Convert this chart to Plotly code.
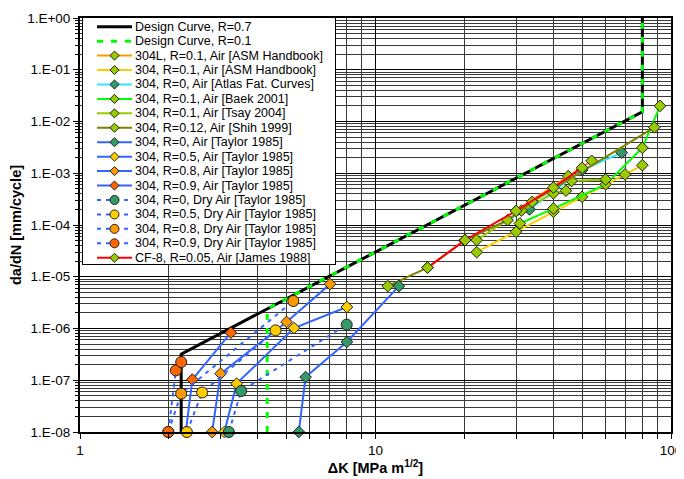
import plotly.graph_objects as go

# ---------------- data ----------------
# Design curves
dc07_dk = [2.2, 2.2, 80, 80]
dc07_da = [1e-8, 3.2e-7, 1.54e-2, 1.0]
dc01_dk = [4.3, 4.3, 80, 80]
dc01_da = [1e-8, 2.4e-6, 1.54e-2, 1.0]

# 304L, R=0.1, Air [ASM Handbook]
asm304l_dk = [29.9, 44.9, 53.9]
asm304l_da = [1.87e-4, 8.8e-4, 1.74e-3]
# 304, R=0.1, Air [ASM Handbook]
asm304_dk = [22.0, 29.9, 40.0, 50.0, 69.9, 80.0]
asm304_da = [2.98e-5, 7.4e-5, 1.8e-4, 3.5e-4, 9.5e-4, 1.43e-3]
# 304, R=0, Air [Atlas Fat. Curves]
atlas_dk = [20.0, 33.2, 50.0, 68.1]
atlas_da = [5.0e-5, 2.0e-4, 1.15e-3, 2.5e-3]
# 304, R=0.1, Air [Baek 2001]
baek_dk = [30.8, 40.0, 60.1, 80.0, 91.8]
baek_da = [1.07e-4, 2.08e-4, 6.1e-4, 3.1e-3, 2.0e-2]
# 304, R=0.1, Air [Tsay 2004]
tsay_dk = [22.0, 31.2, 40.0, 44.1, 46.1, 60.1]
tsay_da = [5.1e-5, 1.9e-4, 4.1e-4, 4.6e-4, 7.1e-4, 7.6e-4]
# 304, R=0.12, Air [Shih 1999]
shih_dk = [11.0, 15.0, 20.1, 28.0, 33.9, 87.8]
shih_da = [6.6e-6, 1.5e-5, 5.1e-5, 1.24e-4, 2.8e-4, 7.7e-3]
# Taylor 1985, Air
tay_r0_dk = [5.5, 5.8, 8.0, 12.0]
tay_r0_da = [1e-8, 1.15e-7, 5.5e-7, 6.6e-6]
tay_r05_dk = [3.08, 3.39, 5.3, 8.0]
tay_r05_da = [1e-8, 8.6e-8, 1.02e-6, 2.6e-6]
tay_r08_dk = [2.8, 2.99, 5.0, 7.02]
tay_r08_da = [1e-8, 1.34e-7, 1.34e-6, 7.2e-6]
tay_r09_dk = [2.28, 2.4, 3.24]
tay_r09_da = [1e-8, 1.03e-7, 8.3e-7]
# Taylor 1985, Dry Air
dry_r0_dk = [3.19, 3.51, 7.99]
dry_r0_da = [1e-8, 6.2e-8, 1.19e-6]
dry_r05_dk = [2.3, 2.59, 4.59]
dry_r05_da = [1e-8, 5.8e-8, 9.2e-7]
dry_r08_dk = [1.99, 2.2, 5.27]
dry_r08_da = [1e-8, 5.5e-8, 3.4e-6]
dry_r09_dk = [1.99, 2.11, 2.2]
dry_r09_da = [1e-8, 1.55e-7, 2.25e-7]
# CF-8, R=0.05, Air [James 1988]
james_dk = [15.0, 20.1, 29.9, 40.0, 50.0]
james_da = [1.5e-5, 5.1e-5, 1.87e-4, 5.3e-4, 1.27e-3]

series_names = [
    "Design Curve, R=0.7",
    "Design Curve, R=0.1",
    "304L, R=0.1, Air [ASM Handbook]",
    "304, R=0.1, Air [ASM Handbook]",
    "304, R=0, Air [Atlas Fat. Curves]",
    "304, R=0.1, Air [Baek 2001]",
    "304, R=0.1, Air [Tsay 2004]",
    "304, R=0.12, Air [Shih 1999]",
    "304, R=0, Air [Taylor 1985]",
    "304, R=0.5, Air [Taylor 1985]",
    "304, R=0.8, Air [Taylor 1985]",
    "304, R=0.9, Air [Taylor 1985]",
    "304, R=0, Dry Air [Taylor 1985]",
    "304, R=0.5, Dry Air [Taylor 1985]",
    "304, R=0.8, Dry Air [Taylor 1985]",
    "304, R=0.9, Dry Air [Taylor 1985]",
    "CF-8, R=0.05, Air [James 1988]",
]
series_x = [dc07_dk, dc01_dk, asm304l_dk, asm304_dk, atlas_dk, baek_dk, tsay_dk, shih_dk,
            tay_r0_dk, tay_r05_dk, tay_r08_dk, tay_r09_dk,
            dry_r0_dk, dry_r05_dk, dry_r08_dk, dry_r09_dk, james_dk]
series_y = [dc07_da, dc01_da, asm304l_da, asm304_da, atlas_da, baek_da, tsay_da, shih_da,
            tay_r0_da, tay_r05_da, tay_r08_da, tay_r09_da,
            dry_r0_da, dry_r05_da, dry_r08_da, dry_r09_da, james_da]

y_tick_vals = [1e-8, 1e-7, 1e-6, 1e-5, 1e-4, 1e-3, 1e-2, 1e-1, 1.0]
y_tick_text = ["1.E-08", "1.E-07", "1.E-06", "1.E-05", "1.E-04", "1.E-03", "1.E-02", "1.E-01", "1.E+00"]
x_tick_vals = [1, 10, 100]
x_tick_text = ["1", "10", "100"]

# ---------------- styles ----------------
YG, TEAL, GOLD, ORNG, ORED = "#99CC00", "#339966", "#FFCC00", "#FF9900", "#FF6600"
BLUE = "#3366FF"
# (line color, line width, dash, marker symbol, marker color)
styles = [
    ("black", 3, "solid", None, None),
    ("#00FF00", 3, "6px,8px", None, None),
    ("#FF9900", 2, "solid", "diamond", YG),
    ("#FFCC00", 2, "solid", "diamond", YG),
    ("#33E6FF", 2, "solid", "diamond", TEAL),
    ("#00FF00", 2, "solid", "diamond", YG),
    ("#99CC00", 2, "solid", "diamond", YG),
    ("#808000", 2, "solid", "diamond", YG),
    (BLUE, 2, "solid", "diamond", TEAL),
    (BLUE, 2, "solid", "diamond", GOLD),
    (BLUE, 2, "solid", "diamond", ORNG),
    (BLUE, 2, "solid", "diamond", ORED),
    (BLUE, 2, "4px,5px", "circle", TEAL),
    (BLUE, 2, "4px,5px", "circle", GOLD),
    (BLUE, 2, "4px,5px", "circle", ORNG),
    (BLUE, 2, "4px,5px", "circle", ORED),
    ("#FF0000", 2, "solid", "diamond", YG),
]

FONT = "Arial, 'Liberation Sans', sans-serif"
fig = go.Figure()

for name, xs, ys, (lc, lw, dash, sym, mc) in zip(series_names, series_x, series_y, styles):
    kw = dict(x=xs, y=ys, name=name, showlegend=False, cliponaxis=False,
              line=dict(color=lc, width=lw, dash=dash), xaxis="x", yaxis="y")
    if sym is None:
        kw["mode"] = "lines"
    else:
        kw["mode"] = "lines+markers"
        kw["marker"] = dict(symbol=sym, color=mc, size=9 if sym == "diamond" else 11,
                            line=dict(color="#222222", width=1))
    fig.add_trace(go.Scatter(**kw))

# ---------------- custom legend (own small axes) ----------------
LEG_W, LEG_H = 252, 246
n = len(series_names)
row_y = [8.7 + 14.44 * i for i in range(n)]
for i, (name, (lc, lw, dash, sym, mc)) in enumerate(zip(series_names, styles)):
    fig.add_trace(go.Scatter(x=[14, 49], y=[row_y[i]] * 2, mode="lines", showlegend=False,
                             hoverinfo="skip", line=dict(color=lc, width=lw, dash=dash),
                             xaxis="x2", yaxis="y2"))
    if sym is not None:
        fig.add_trace(go.Scatter(x=[31.5], y=[row_y[i]], mode="markers", showlegend=False,
                                 hoverinfo="skip", cliponaxis=False,
                                 marker=dict(symbol=sym, color=mc, size=7 if sym == "diamond" else 9,
                                             line=dict(color="#222222", width=1)),
                                 xaxis="x2", yaxis="y2"))
    fig.add_annotation(x=50, y=row_y[i], xref="x2", yref="y2", text=name, showarrow=False,
                       xanchor="left", yanchor="middle", font=dict(size=12.5, family=FONT, color="black"))

def minor_vals(lo, hi):
    return [d * 10 ** k for k in range(lo, hi) for d in range(2, 10)]

# the page body has an 8 px margin, so the figure is 8 px smaller and margins compensate
fig.update_layout(
    width=676, height=471,
    margin=dict(l=72, r=13, t=10, b=47),
    paper_bgcolor="white", plot_bgcolor="white",
    font=dict(family=FONT, color="black"),
    xaxis=dict(type="log", range=[0, 2], showline=True, linecolor="black", linewidth=2, mirror=True,
               ticks="outside", ticklen=5, tickcolor="black", tickmode="array", automargin=False,
               tickvals=x_tick_vals, ticktext=x_tick_text, tickfont=dict(size=13.5),
               showgrid=True, gridcolor="black", gridwidth=1, zeroline=False,
               minor=dict(tickmode="array", tickvals=minor_vals(0, 2), ticks="outside", ticklen=5,
                          tickcolor="black", showgrid=True, gridcolor="#3a3a3a", gridwidth=1),
               title=dict(text="<b>ΔK [MPa m<sup>1/2</sup>]</b>", font=dict(size=14.5), standoff=2)),
    yaxis=dict(type="log", range=[-8, 0], showline=True, linecolor="black", linewidth=2, mirror=True,
               ticks="outside", ticklen=5, tickcolor="black", tickmode="array", automargin=False,
               tickvals=y_tick_vals, ticktext=y_tick_text, tickfont=dict(size=13.5),
               showgrid=True, gridcolor="black", gridwidth=1, zeroline=False,
               minor=dict(tickmode="array", tickvals=minor_vals(-8, 0), ticks="outside", ticklen=3,
                          tickcolor="black", showgrid=True, gridcolor="#3a3a3a", gridwidth=1),
               title=dict(text="<b>da/dN [mm/cycle]</b>", font=dict(size=14.5), standoff=4)),
    xaxis2=dict(domain=[3 / 591, 255 / 591], range=[0, LEG_W], anchor="y2", showgrid=False,
                zeroline=False, showticklabels=False, ticks="", showline=True, mirror=True,
                linecolor="black", linewidth=1, fixedrange=True, automargin=False),
    yaxis2=dict(domain=[(424 - 256) / 414, 1], range=[LEG_H, 0], anchor="x2", showgrid=False,
                zeroline=False, showticklabels=False, ticks="", showline=True, mirror=True,
                linecolor="black", linewidth=1, fixedrange=True, automargin=False),
)

fig.write_html("out.html")
